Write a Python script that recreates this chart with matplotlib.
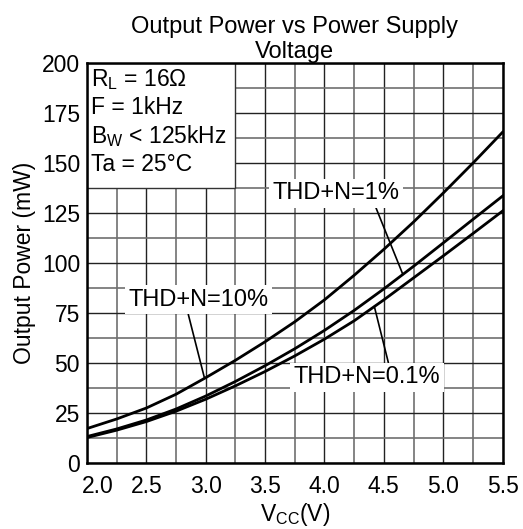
import numpy as np
import matplotlib
matplotlib.use("Agg")
import matplotlib.pyplot as plt
import matplotlib.transforms as mtransforms
from matplotlib.patches import Rectangle

plt.rcParams["font.family"] = ["Liberation Sans", "DejaVu Sans"]
plt.rcParams["mathtext.fontset"] = "custom"
plt.rcParams["mathtext.rm"] = "Liberation Sans"
plt.rcParams["mathtext.it"] = "Liberation Sans:italic"

# supply voltage (V)
vcc = [2.0, 2.25, 2.5, 2.75, 3.0, 3.25, 3.5, 3.75, 4.0, 4.25, 4.5, 4.75, 5.0, 5.25, 5.5]

# output power (mW)
thd_10 = [17, 21.8, 27.3, 34.2, 42.5, 51.2, 60.5, 70.5, 81.5, 93.8, 106.8, 120.5, 135, 150, 165.5]
thd_1 = [13, 16.8, 21.3, 26.8, 33.3, 40.6, 48.5, 57, 66.2, 76.2, 87, 98.3, 110, 121.8, 133.5]
thd_01 = [12.5, 16.2, 20.5, 25.7, 31.7, 38.4, 45.6, 53.4, 61.8, 71, 81.5, 92.5, 103.5, 114.7, 126]

x_ticks = [2.0, 2.5, 3.0, 3.5, 4.0, 4.5, 5.0, 5.5]
x_ticklabels = ["2.0", "2.5", "3.0", "3.5", "4.0", "4.5", "5.0", "5.5"]
y_ticks = [0, 25, 50, 75, 100, 125, 150, 175, 200]

conditions = ["R$_\\mathrm{L}$ = 16Ω", "F = 1kHz", "B$_\\mathrm{W}$ < 125kHz", "Ta = 25°C"]

fig = plt.figure(figsize=(5.23, 5.29), dpi=100)
ax = fig.add_axes([0.1663, 0.1257, 0.7947, 0.7546])

ax.set_xlim(2.0, 5.5)
ax.set_ylim(0, 200)
ax.set_xticks(x_ticks)
ax.set_xticklabels(x_ticklabels)
ax.set_yticks(y_ticks)
ax.set_xticks(np.arange(2.25, 5.5, 0.5), minor=True)
ax.set_yticks(np.arange(12.5, 200, 25), minor=True)
ax.tick_params(which="both", length=0, labelsize=16.5)
ax.tick_params(axis="x", pad=9)
ax.tick_params(axis="y", pad=5)

ax.grid(which="major", color="#222222", linewidth=1.0, zorder=0)
ax.grid(which="minor", color="#707070", linewidth=1.2, zorder=0)
ax.set_axisbelow(True)

for s in ax.spines.values():
    s.set_linewidth(1.8)
    s.set_zorder(5)

# shift first x label right so it does not hit the "0"
lbl0 = ax.get_xticklabels()[0]
lbl0.set_transform(lbl0.get_transform() + mtransforms.ScaledTranslation(11 / 100, 0, fig.dpi_scale_trans))

ax.plot(vcc, thd_10, color="black", linewidth=2.0, zorder=3)
ax.plot(vcc, thd_1, color="black", linewidth=2.0, zorder=3)
ax.plot(vcc, thd_01, color="black", linewidth=2.0, zorder=3)

# conditions box
ax.add_patch(Rectangle((2.0, 137.5), 1.25, 62.5, facecolor="white", edgecolor="#333333",
                       linewidth=1.0, zorder=2))
for i, t in enumerate(conditions):
    ax.text(2.03, 192 - i * 14.2, t, fontsize=16.5, va="center", ha="left", zorder=4)

box = dict(facecolor="white", edgecolor="none", pad=2.5)
line = dict(arrowstyle="-", color="black", linewidth=1.2, shrinkA=0, shrinkB=0)

# curve labels with leader lines
x1 = 4.66
ax.annotate("THD+N=1%", xy=(x1, np.interp(x1, vcc, thd_1)), xytext=(4.1, 135),
            fontsize=17, ha="center", va="center", bbox=box, zorder=4,
            arrowprops=dict(line, relpos=(0.8, 0.0)))
x10 = 2.99
ax.annotate("THD+N=10%", xy=(x10, np.interp(x10, vcc, thd_10)), xytext=(2.94, 81.5),
            fontsize=17, ha="center", va="center", bbox=box, zorder=4,
            arrowprops=dict(line, relpos=(0.42, 0.0)))
x01 = 4.42
ax.annotate("THD+N=0.1%", xy=(x01, np.interp(x01, vcc, thd_01)), xytext=(4.36, 42.8),
            fontsize=17, ha="center", va="center", bbox=box, zorder=4,
            arrowprops=dict(line, relpos=(0.65, 1.0)))

ax.set_title("Output Power vs Power Supply\nVoltage", fontsize=17, linespacing=1.15, pad=4)
ax.set_xlabel("V$_\\mathrm{CC}$(V)", fontsize=16.5, labelpad=2)
ax.set_ylabel("Output Power (mW)", fontsize=16.5, labelpad=4)

fig.savefig("out.png", dpi=100)
